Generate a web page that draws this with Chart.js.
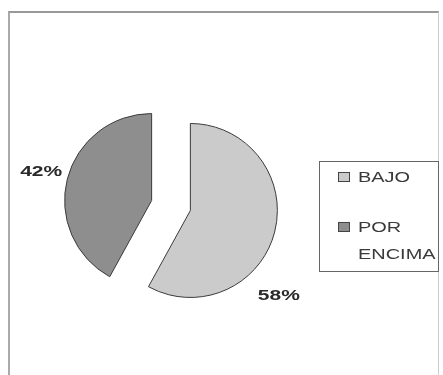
<!DOCTYPE html>
<html>
<head>
<meta charset="utf-8">
<script src="https://cdn.jsdelivr.net/npm/chart.js@4"></script>
<style>
  html, body { margin: 0; padding: 0; background: #fff; }
  #wrap { position: relative; width: 443px; height: 375px; overflow: hidden; }
  #frame {
    position: absolute; left: 8px; top: 11px; width: 428px; height: 380px;
    border-top: 2px solid #999; border-left: 2px solid #aaa; border-right: 1px solid #ccc;
  }
  canvas { position: absolute; left: 0; top: 0; }
  #legend {
    position: absolute; left: 319px; top: 161px; width: 118px; height: 109px;
    border: 1px solid #666; font-family: "Liberation Sans", Arial, sans-serif;
    font-size: 15px; color: #3a3a3a;
  }
  .item { position: relative; margin-top: 1px; margin-bottom: 23px; min-height: 27px; }
  .sw { position: absolute; left: 18px; top: 9px; width: 10px; height: 8px; border: 1px solid #444; }
  .txt {
    display: block; margin-left: 38px; width: 60px; line-height: 27px;
    transform: scaleX(1.33); transform-origin: 0 0;
  }
</style>
</head>
<body>
<div id="wrap">
  <div id="frame"></div>
  <canvas id="torta" width="443" height="375"></canvas>
  <div id="legend"></div>
</div>
<script>
const categorias = ['BAJO', 'POR ENCIMA'];
const porcentajes = [58, 42];
const colores = ['#cbcbcb', '#8e8e8e'];

const RADIO = 87;
const SEPARACION = 80; // chart.js moves each arc by offset/4

// chart.js also grows the arc radius by the offset; take that back so both slices keep the same size
const igualarRadio = {
  id: 'igualarRadio',
  afterDatasetUpdate(chart, args) {
    args.meta.data.forEach(arc => {
      const ro = (SEPARACION / 4) * (1 - Math.sin(Math.min(Math.PI, arc.circumference)));
      arc.outerRadius = RADIO - ro;
      const a = ro / (2 * Math.PI * RADIO);
      arc.startAngle -= a;
      arc.endAngle += a;
    });
  }
};

// percentage labels outside each slice
const etiquetas = {
  id: 'etiquetas',
  afterDatasetsDraw(chart, args, opts) {
    const ctx = chart.ctx;
    const meta = chart.getDatasetMeta(0);
    meta.data.forEach((arc, i) => {
      const mid = (arc.startAngle + arc.endAngle) / 2;
      const cx = arc.x + Math.cos(mid) * SEPARACION / 4;
      const cy = arc.y + Math.sin(mid) * SEPARACION / 4;
      const ang = opts.angulos[i] == null ? mid : (opts.angulos[i] - 90) * Math.PI / 180;
      const d = RADIO + opts.distancias[i];
      ctx.save();
      ctx.translate(cx + Math.cos(ang) * d, cy + Math.sin(ang) * d);
      ctx.scale(1.5, 1);
      ctx.font = 'bold 14px "Liberation Sans", Arial, sans-serif';
      ctx.fillStyle = '#2a2a2a';
      ctx.textAlign = 'center';
      ctx.textBaseline = 'middle';
      ctx.fillText(porcentajes[i] + '%', 0, 0);
      ctx.restore();
    });
  }
};

new Chart(document.getElementById('torta'), {
  type: 'pie',
  data: {
    labels: categorias,
    datasets: [{
      data: porcentajes,
      backgroundColor: colores,
      borderColor: '#3a3a3a',
      borderWidth: 1,
      offset: SEPARACION,
      radius: RADIO
    }]
  },
  options: {
    responsive: false,
    animation: false,
    events: [],
    layout: { padding: { left: 20, right: 121, top: 36, bottom: 0 } },
    plugins: {
      legend: { display: false },
      tooltip: { enabled: false },
      etiquetas: { angulos: [134, null], distancias: [36, 27] }
    }
  },
  plugins: [igualarRadio, etiquetas]
});

// legend box at the right
const legend = document.getElementById('legend');
categorias.forEach((c, i) => {
  legend.innerHTML += `
    <div class="item">
      <span class="sw" style="background:${colores[i]}"></span>
      <span class="txt">${c}</span>
    </div>`;
});
</script>
</body>
</html>
